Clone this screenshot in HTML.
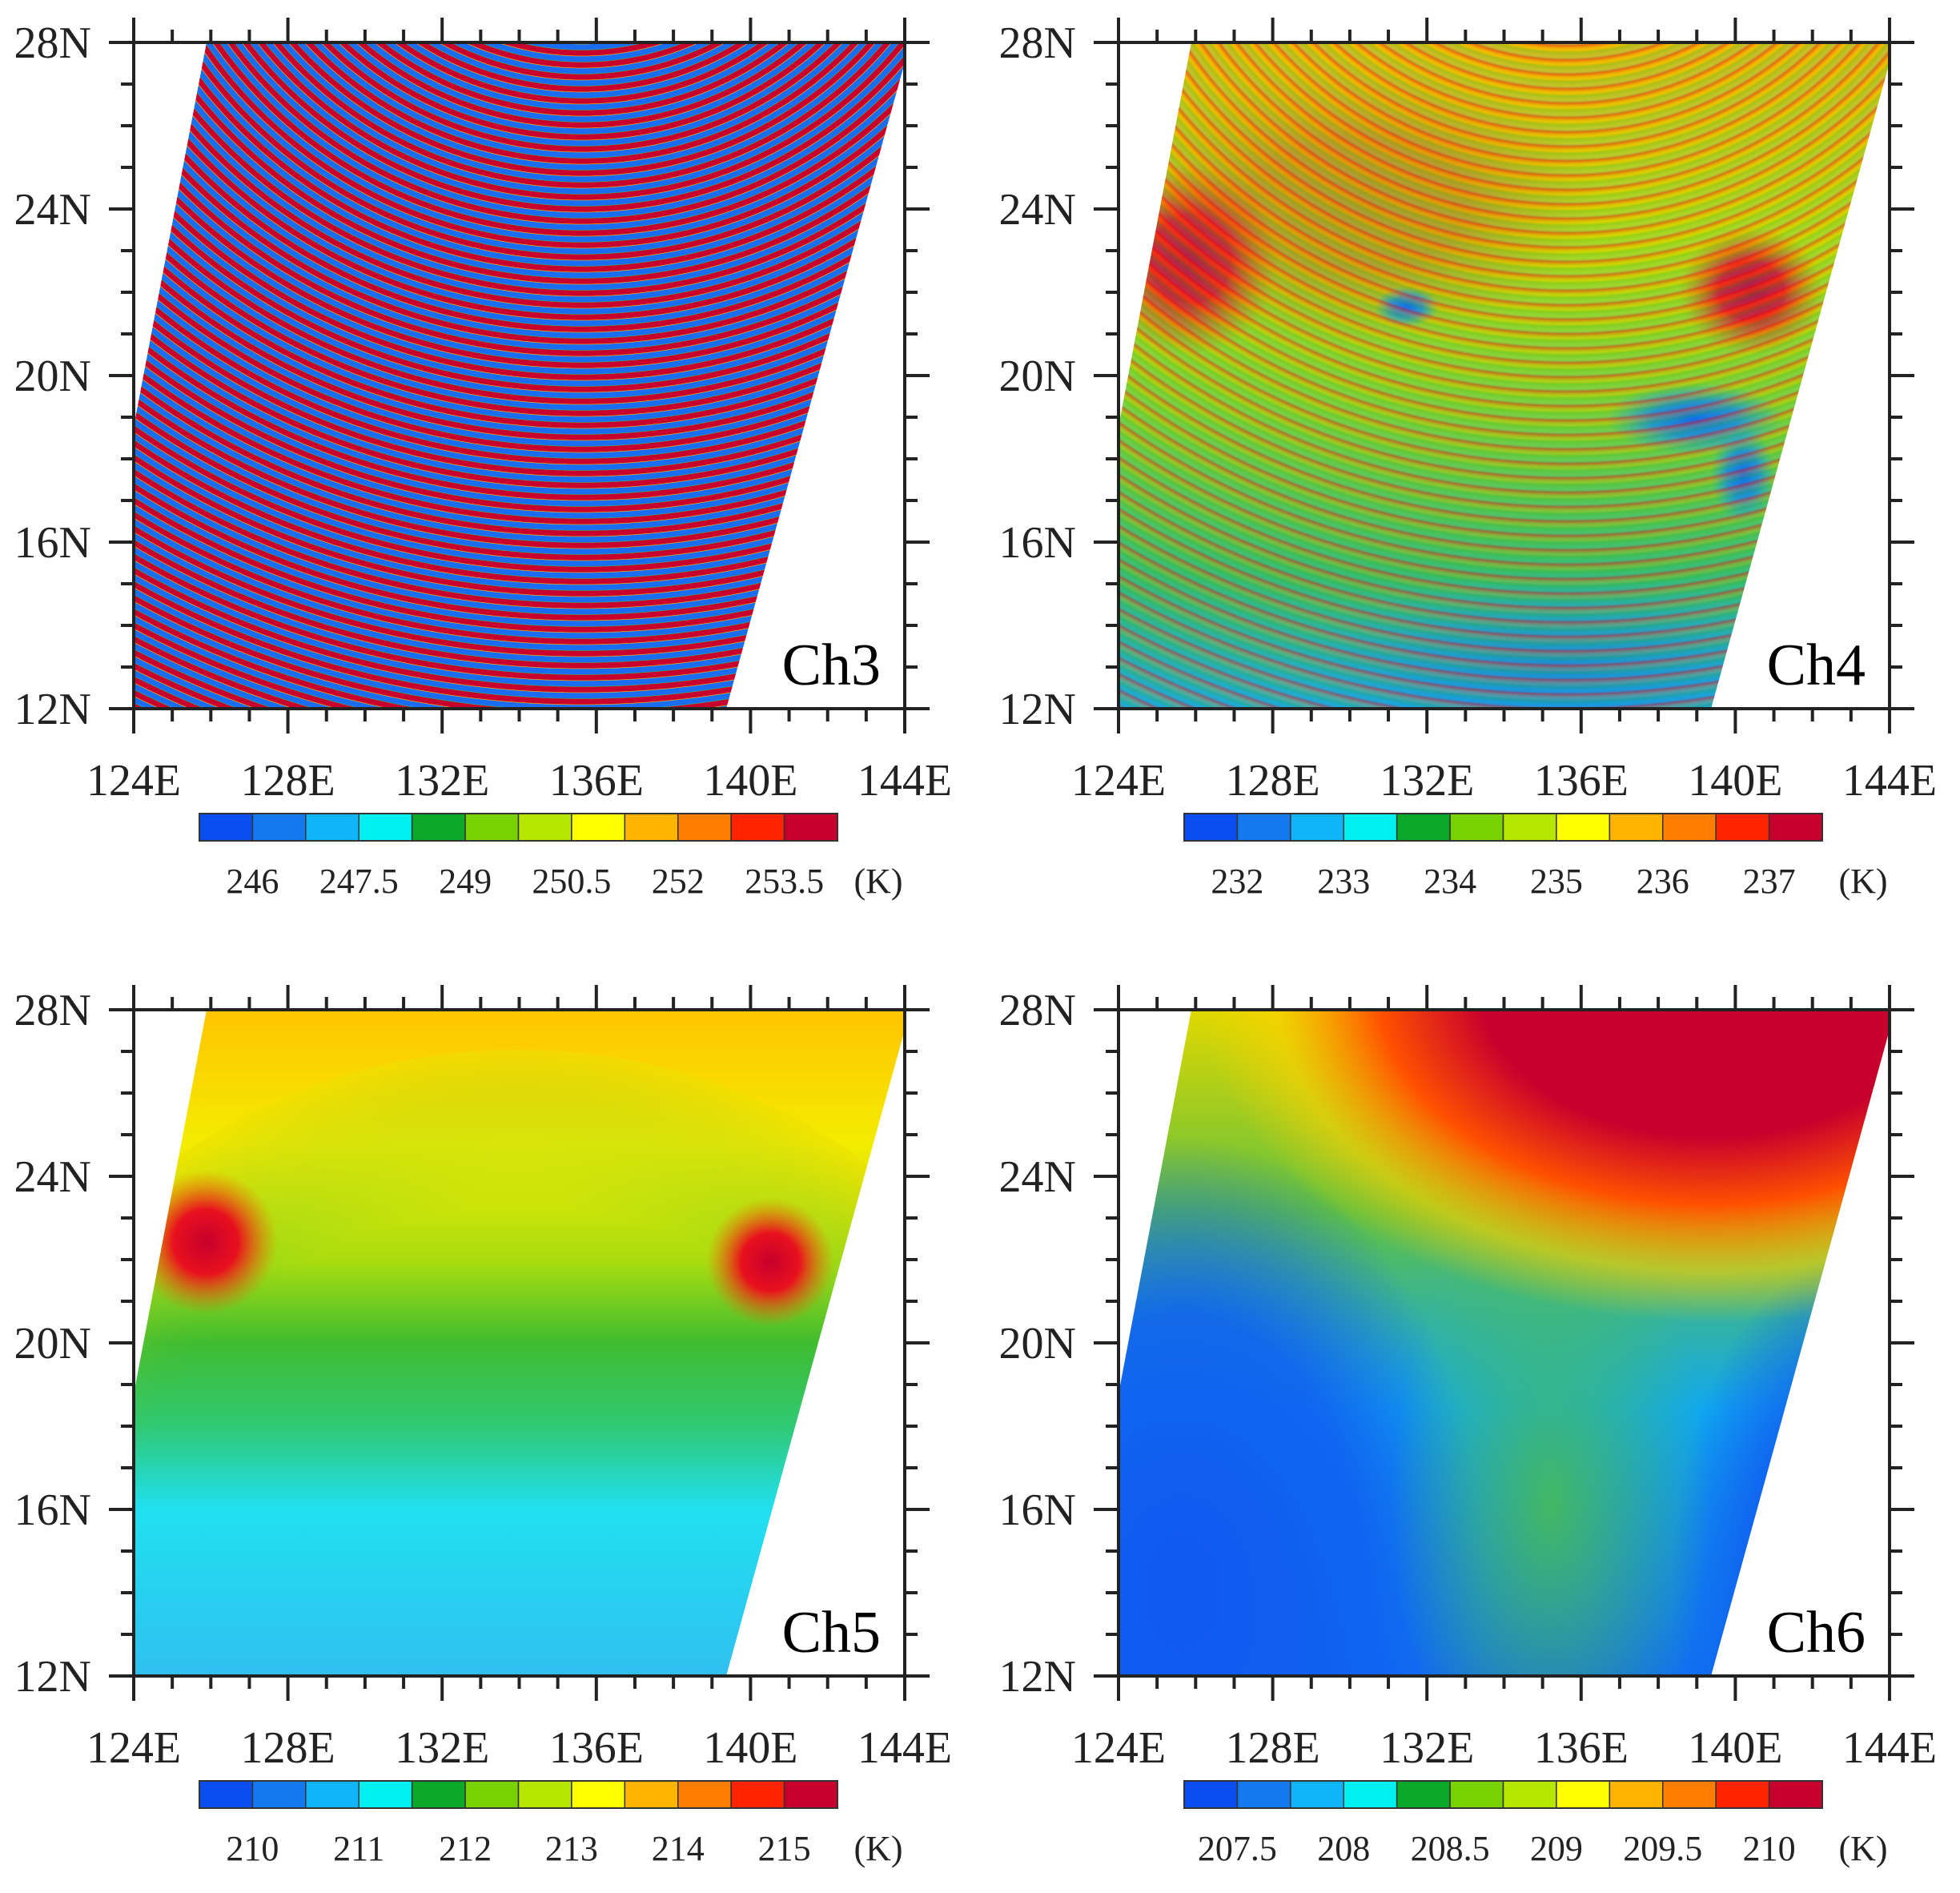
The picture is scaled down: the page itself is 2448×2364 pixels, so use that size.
<!DOCTYPE html>
<html><head><meta charset="utf-8">
<style>
html,body{margin:0;padding:0;background:#fff;width:2448px;height:2364px;overflow:hidden;}
svg{display:block;}
text{font-family:"Liberation Serif",serif;fill:#222;}
</style></head>
<body>
<svg id="s" width="2448" height="2364" xmlns="http://www.w3.org/2000/svg">
<defs>
<clipPath id="sw"><polygon points="91,0 963,0 963,25 740,832 0,832 0,480"/></clipPath>
<radialGradient id="rb3" gradientUnits="userSpaceOnUse" cx="560" cy="-320" r="15" spreadMethod="repeat">
<stop offset="0" stop-color="#c8002d"/><stop offset="0.42" stop-color="#c8002d"/><stop offset="0.47" stop-color="#ffd000"/><stop offset="0.5" stop-color="#1a6cf0"/><stop offset="0.92" stop-color="#1a6cf0"/><stop offset="0.96" stop-color="#30c060"/><stop offset="1" stop-color="#c8002d"/>
</radialGradient>
<radialGradient id="rb4" gradientUnits="userSpaceOnUse" cx="560" cy="-320" r="18" spreadMethod="repeat">
<stop offset="0" stop-color="#e0101e" stop-opacity="0.5"/><stop offset="0.3" stop-color="#ffb000" stop-opacity="0.2"/><stop offset="0.5" stop-color="#20b040" stop-opacity="0.3"/><stop offset="0.8" stop-color="#10b0f0" stop-opacity="0.15"/><stop offset="1" stop-color="#e0101e" stop-opacity="0.5"/>
</radialGradient>
<linearGradient id="g4" x1="0" y1="0" x2="0" y2="1">
<stop offset="0" stop-color="#f0c000"/><stop offset="0.3" stop-color="#c8e000"/><stop offset="0.55" stop-color="#90d820"/><stop offset="0.8" stop-color="#40c060"/><stop offset="1" stop-color="#20a8d8"/>
</linearGradient>
<linearGradient id="g5" x1="0" y1="0" x2="0" y2="1">
<stop offset="0" stop-color="#ffc400"/><stop offset="0.2" stop-color="#f4ec00"/><stop offset="0.38" stop-color="#a8dc10"/><stop offset="0.5" stop-color="#40bc30"/><stop offset="0.62" stop-color="#30c870"/><stop offset="0.75" stop-color="#20e0f0"/><stop offset="1" stop-color="#30c0f0"/>
</linearGradient>
<linearGradient id="g6" x1="0" y1="0" x2="0" y2="1">
<stop offset="0" stop-color="#e0d800"/><stop offset="0.3" stop-color="#60c040"/><stop offset="0.6" stop-color="#10a8f0"/><stop offset="1" stop-color="#1070f0"/>
</linearGradient>
<radialGradient id="spot" r="0.5"><stop offset="0" stop-color="#c8002d"/><stop offset="0.45" stop-color="#e8101e"/><stop offset="1" stop-color="#ff6000" stop-opacity="0"/></radialGradient>
<radialGradient id="spotb" r="0.5"><stop offset="0" stop-color="#1060f0"/><stop offset="0.5" stop-color="#1080f0" stop-opacity="0.8"/><stop offset="1" stop-color="#10a0f0" stop-opacity="0"/></radialGradient>
<radialGradient id="red6" r="0.5"><stop offset="0" stop-color="#c8002d"/><stop offset="0.45" stop-color="#c8002d"/><stop offset="0.65" stop-color="#ff5000"/><stop offset="0.85" stop-color="#ffd000" stop-opacity="0.6"/><stop offset="1" stop-color="#ffd000" stop-opacity="0"/></radialGradient>
<radialGradient id="blue6" r="0.5"><stop offset="0" stop-color="#1058f0"/><stop offset="0.6" stop-color="#1060f0" stop-opacity="0.9"/><stop offset="1" stop-color="#1060f0" stop-opacity="0"/></radialGradient>
<radialGradient id="green6" r="0.5"><stop offset="0" stop-color="#50c040" stop-opacity="0.8"/><stop offset="1" stop-color="#50c040" stop-opacity="0"/></radialGradient>
<radialGradient id="edge5" r="0.5"><stop offset="0" stop-color="#40c040" stop-opacity="0"/><stop offset="0.7" stop-color="#40c040" stop-opacity="0"/><stop offset="1" stop-color="#f0e000" stop-opacity="0.6"/></radialGradient>
</defs>
<g id="root"></g>
</svg>
<script>
var NS="http://www.w3.org/2000/svg",root=document.getElementById('root');
function el(t,a,p,txt){var e=document.createElementNS(NS,t);for(var k in a)e.setAttribute(k,a[k]);if(txt!==undefined)e.textContent=txt;(p||root).appendChild(e);return e;}
var W=963,H=832;
var cols=["#0a4ef0","#1478f0","#10b4f8","#00f0f0","#0aaa28","#78d200","#b4e600","#ffff00","#ffb400","#ff7d00","#ff2300","#c8002d"];
var panels=[
 {x:167,y:53,name:"Ch3",labs:["246","247.5","249","250.5","252","253.5"]},
 {x:1397,y:53,name:"Ch4",labs:["232","233","234","235","236","237"]},
 {x:167,y:1261,name:"Ch5",labs:["210","211","212","213","214","215"]},
 {x:1397,y:1261,name:"Ch6",labs:["207.5","208","208.5","209","209.5","210"]}];
panels.forEach(function(P,i){
 var g=el('g',{transform:'translate('+P.x+','+P.y+')'});
 var d=el('g',{'clip-path':'url(#sw)'},g);
 if(i==0){el('rect',{x:0,y:0,width:W,height:H,fill:'url(#rb3)'},d);}
 if(i==1){el('rect',{x:0,y:0,width:W,height:H,fill:'url(#g4)'},d);
  el('ellipse',{cx:90,cy:270,rx:110,ry:120,fill:'url(#spot)'},d);
  el('ellipse',{cx:790,cy:310,rx:90,ry:80,fill:'url(#spot)'},d);
  el('ellipse',{cx:300,cy:200,rx:300,ry:180,fill:'url(#spot)',opacity:0.3},d);
  el('ellipse',{cx:720,cy:470,rx:110,ry:45,fill:'url(#spotb)'},d);
  el('ellipse',{cx:780,cy:540,rx:40,ry:60,fill:'url(#spotb)'},d);
  el('ellipse',{cx:360,cy:330,rx:40,ry:25,fill:'url(#spotb)'},d);
  el('ellipse',{cx:550,cy:780,rx:350,ry:120,fill:'url(#spotb)',opacity:0.5},d);
  el('rect',{x:0,y:0,width:W,height:H,fill:'url(#rb4)'},d);}
 if(i==2){el('rect',{x:0,y:0,width:W,height:H,fill:'url(#g5)'},d);
  el('ellipse',{cx:480,cy:700,rx:700,ry:650,fill:'url(#edge5)'},d);
  el('ellipse',{cx:90,cy:290,rx:90,ry:90,fill:'url(#spot)'},d);
  el('ellipse',{cx:795,cy:315,rx:80,ry:80,fill:'url(#spot)'},d);}
 if(i==3){el('rect',{x:0,y:0,width:W,height:H,fill:'url(#g6)'},d);
  el('ellipse',{cx:80,cy:720,rx:380,ry:560,fill:'url(#blue6)'},d);
  el('ellipse',{cx:930,cy:720,rx:240,ry:420,fill:'url(#blue6)'},d);
  el('ellipse',{cx:540,cy:620,rx:200,ry:380,fill:'url(#green6)'},d);
  el('ellipse',{cx:740,cy:-30,rx:640,ry:420,fill:'url(#red6)'},d);}
 el('rect',{x:0,y:0,width:W,height:H,fill:'none',stroke:'#222','stroke-width':4},g);
 var lx=W/20;
 for(var k=0;k<=20;k++){var x=k*lx,maj=k%4==0,L=maj?31:16;
  el('line',{x1:x,y1:0,x2:x,y2:-L,stroke:'#222','stroke-width':4},g);
  el('line',{x1:x,y1:H,x2:x,y2:H+L,stroke:'#222','stroke-width':4},g);
  if(maj)el('text',{x:x,y:H+108,'font-size':56,'text-anchor':'middle'},g,(124+k)+'E');}
 var ly=H/16;
 for(var k=0;k<=16;k++){var y=k*ly,maj=k%4==0,L=maj?31:16;
  el('line',{x1:0,y1:y,x2:-L,y2:y,stroke:'#222','stroke-width':4},g);
  el('line',{x1:W,y1:y,x2:W+L,y2:y,stroke:'#222','stroke-width':4},g);
  if(maj)el('text',{x:-53,y:y+19,'font-size':56,'text-anchor':'end'},g,(28-k)+'N');}
 el('text',{x:W-30,y:H-30,'font-size':74,'text-anchor':'end',style:'fill:#000'},g,P.name);
 var cx0=82,cw=797/12,cy=963;
 for(var c=0;c<12;c++)el('rect',{x:cx0+c*cw,y:cy,width:cw,height:34,fill:cols[c],stroke:'#333','stroke-width':1.5},g);
 el('rect',{x:cx0,y:cy,width:797,height:34,fill:'none',stroke:'#333','stroke-width':2},g);
 for(var j=0;j<6;j++)el('text',{x:cx0+(2*j+1)*cw,y:1062,'font-size':44,'text-anchor':'middle'},g,P.labs[j]);
 el('text',{x:930,y:1062,'font-size':44,'text-anchor':'middle'},g,'(K)');
});
</script>
</body></html>
